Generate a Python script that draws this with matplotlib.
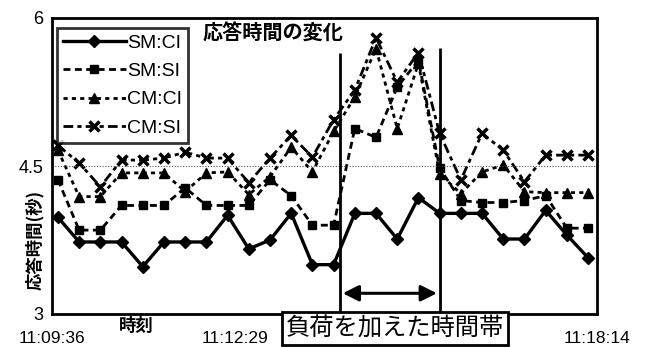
import matplotlib
matplotlib.use("Agg")
import matplotlib.pyplot as plt
import numpy as np

# ---- data ----
series_names = ["SM:CI", "SM:SI", "CM:CI", "CM:SI"]
idx = list(range(26))
sm_ci = [3.98, 3.73, 3.73, 3.73, 3.48, 3.73, 3.73, 3.73, 4.00, 3.66, 3.75, 4.02, 3.50, 3.50,
         4.02, 4.02, 3.76, 4.18, 4.02, 4.02, 4.02, 3.76, 3.76, 4.05, 3.80, 3.57]
sm_si = [4.36, 3.85, 3.85, 4.10, 4.10, 4.10, 4.28, 4.10, 4.10, 4.10, 4.36, 4.20, 3.90, 3.90,
         4.88, 4.79, 5.30, 5.57, 4.48, 4.15, 4.13, 4.13, 4.15, 4.20, 3.87, 3.87]
cm_ci = [4.66, 4.19, 4.19, 4.43, 4.43, 4.43, 4.24, 4.43, 4.44, 4.21, 4.39, 4.69, 4.44, 4.85,
         5.20, 5.69, 4.88, 5.54, 4.42, 4.22, 4.44, 4.51, 4.24, 4.23, 4.23, 4.23]
cm_si = [4.71, 4.53, 4.29, 4.56, 4.56, 4.58, 4.64, 4.58, 4.58, 4.33, 4.58, 4.81, 4.59, 4.97,
         5.27, 5.80, 5.35, 5.65, 4.83, 4.36, 4.83, 4.66, 4.34, 4.61, 4.61, 4.61]
tick_pos = [-0.28, 8.35, 25.42]
tick_labels = ["11:09:36", "11:12:29", "11:18:14"]
load_start, load_end = 13.3, 18.0
yticks = [3, 4.5, 6]

plt.rcParams['font.family'] = ['Liberation Sans', 'Noto Sans CJK JP', 'DejaVu Sans']
jp = ['Noto Sans CJK JP', 'DejaVu Sans']

fig = plt.figure(figsize=(6.45, 3.47), dpi=100)
ax = fig.add_axes([52/645, 1-314/347, 545/645, 296/347])

ax.plot(idx, sm_ci, color='black', lw=2.4, ls='-', marker='D', ms=6.5, label=series_names[0])
ax.plot(idx, sm_si, color='black', lw=2.0, ls=(0, (2.5, 1.6)), marker='s', ms=5.5, label=series_names[1])
ax.plot(idx, cm_ci, color='black', lw=2.0, ls=(0, (1.5, 1.5)), marker='^', ms=7, label=series_names[2])
ax.plot(idx, cm_si, color='black', lw=2.0, ls=(0, (3.5, 1.5, 1.5, 1.5)), marker='x', ms=7.5, mew=2.5,
        label=series_names[3])

ax.set_xlim(-0.28, 25.42)
ax.set_ylim(3, 6)
ax.set_yticks(yticks)
ax.set_yticklabels(["3", "4.5", "6"], fontsize=13)
ax.set_xticks(tick_pos)
ax.set_xticklabels(tick_labels, fontsize=12.5)
ax.tick_params(axis='x', length=0, pad=12)
ax.tick_params(axis='y', length=0, pad=6)
ax.axhline(4.5, color='#555555', lw=0.8, ls=(0, (1, 1.5)))
for s in ax.spines.values():
    s.set_linewidth(2.0)
    s.set_color('black')

# load window
ax.vlines([load_start], 3, 5.65, color='black', lw=2)
ax.vlines([load_end], 3, 5.70, color='black', lw=2)
ax.annotate('', xy=(load_start, 3.21), xytext=(load_end, 3.21),
            arrowprops=dict(arrowstyle='<|-|>', color='black', lw=2.2, mutation_scale=24))

ax.text(0.405, 0.985, "応答時間の変化", transform=ax.transAxes, ha='center', va='top',
        fontsize=14.5, family=jp, fontweight='bold')
ax.text(0.629, -0.048, "負荷を加えた時間帯", transform=ax.transAxes, ha='center', va='center',
        fontsize=17.5, family=jp,
        bbox=dict(boxstyle='square,pad=0.15', fc='white', ec='black', lw=2))
ax.text(0.155, -0.04, "時刻", transform=ax.transAxes, ha='center', va='center',
        fontsize=12.5, family=jp, fontweight='bold')
fig.text(35/645, 1-240/347, "応答時間(秒)", rotation=90, ha='center', va='center',
         fontsize=12.5, family=jp, fontweight='bold')

leg = ax.legend(loc='upper left', bbox_to_anchor=(0.01, 0.965), fontsize=14, frameon=True,
                fancybox=False, edgecolor='black', handlelength=3.2, handletextpad=0.1,
                borderpad=0.3, labelspacing=0.55, borderaxespad=0)
leg.get_frame().set_linewidth(2)

fig.savefig("out.png", dpi=100)
